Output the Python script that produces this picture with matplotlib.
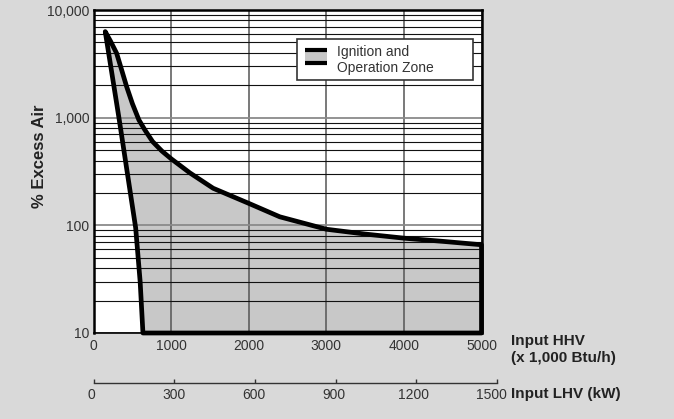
import matplotlib
matplotlib.use("Agg")
import matplotlib.pyplot as plt
import matplotlib.ticker as mticker
from matplotlib.patches import Polygon, Rectangle
from matplotlib.lines import Line2D

plt.rcParams['font.family'] = ['Liberation Sans', 'DejaVu Sans']

# ---- data ----
upper_x = [150, 220, 297, 360, 426, 500, 584, 661, 760, 880, 1000, 1241, 1541,
           2000, 2400, 3000, 3500, 4000, 4500, 5000]
upper_y = [6300, 5100, 3960, 2800, 1940, 1350, 952, 769, 600, 490, 415, 307, 221,
           160, 120, 92, 83, 76, 71, 66]
lower_x = [150, 331, 542, 600, 636]
lower_y = [6300, 952, 95, 30, 10]
floor_y = 10
max_x = 5000

hhv_ticks = [0, 1000, 2000, 3000, 4000, 5000]
y_ticks = [10, 100, 1000, 10000]
y_ticklabels = ["10", "100", "1,000", "10,000"]
lhv_ticks = [0, 300, 600, 900, 1200, 1500]
lhv_label_dx = [-1.5, -0.5, -0.7, -1.0, -2.0, -4.3]

legend_label = "Ignition and\nOperation Zone"

BG = '#d9d9d9'
FILL = '#c8c8c8'
TXT = '#333333'

fig = plt.figure(figsize=(6.74, 4.19), dpi=100, facecolor=BG)
W, H = 674, 419
ax_l, ax_r, ax_t, ax_b = 93.6, 481.5, 10, 333
ax = fig.add_axes([ax_l / W, 1 - ax_b / H, (ax_r - ax_l) / W, (ax_b - ax_t) / H])
ax.set_facecolor('white')
ax.set_yscale('log')
ax.set_xlim(0, max_x)
ax.set_ylim(10, 10000)

# zone polygon
verts = list(zip(upper_x, upper_y)) + [(max_x, floor_y)] + \
    list(zip(lower_x[::-1], lower_y[::-1]))[:-1]
fill = Polygon(verts, closed=True, facecolor=FILL, edgecolor='none', zorder=1)
ax.add_patch(fill)
edge = Polygon(verts, closed=True, facecolor='none', edgecolor='black',
               lw=3.4, joinstyle='round', zorder=4, clip_on=False)
ax.add_patch(edge)

# grid
ax.set_xticks(hhv_ticks)
ax.set_yticks(y_ticks)
ax.set_yticklabels(y_ticklabels)
ax.yaxis.set_minor_locator(mticker.LogLocator(base=10, subs=range(2, 10)))
ax.yaxis.set_minor_formatter(mticker.NullFormatter())
ax.grid(True, which='major', axis='x', color='#555555', lw=1.1, zorder=2)
ax.grid(True, which='major', axis='y', color='#8a8a8a', lw=1.3, zorder=2)
ax.grid(True, which='minor', axis='y', color='#111111', lw=0.8, zorder=2)
ax.set_axisbelow(False)
for line in ax.get_xgridlines() + ax.get_ygridlines():
    line.set_zorder(2)

ax.tick_params(axis='both', which='both', length=0, labelsize=10, labelcolor=TXT)
ax.tick_params(axis='x', pad=4)
ax.tick_params(axis='y', pad=3)

for s in ['left', 'top', 'right']:
    ax.spines[s].set_linewidth(1.8)
    ax.spines[s].set_color('black')
ax.spines['bottom'].set_linewidth(1.2)
for s in ax.spines.values():
    s.set_zorder(3)

# legend (manual)
ax.add_patch(Rectangle((0.5244, 0.783), 0.978 - 0.5244, 0.910 - 0.783,
                       transform=ax.transAxes, facecolor='white',
                       edgecolor='#333333', lw=1.2, zorder=5))
ax.add_patch(Rectangle((0.5449, 0.8297), 0.6017 - 0.5449, 0.8824 - 0.8297,
                       transform=ax.transAxes, facecolor=FILL,
                       edgecolor='none', zorder=6))
for yy in (0.8762, 0.8359):
    ax.add_line(Line2D([0.5449, 0.6017], [yy, yy], transform=ax.transAxes,
                       color='black', lw=3.0, solid_capstyle='butt', zorder=7))
ax.text(0.6272, 0.846, legend_label, transform=ax.transAxes, ha='left',
        va='center', fontsize=10, color=TXT, linespacing=1.15, zorder=7)

# secondary (LHV) axis
sec_y = 383
ax2 = fig.add_axes([ax_l / W, 1 - sec_y / H, (497 - ax_l) / W, 0.0001])
ax2.set_facecolor('none')
ax2.set_xlim(lhv_ticks[0], lhv_ticks[-1])
ax2.set_xticks(lhv_ticks)
ax2.set_xticklabels([])
ax2.set_yticks([])
for s in ['left', 'top', 'right']:
    ax2.spines[s].set_visible(False)
ax2.spines['bottom'].set_color('#333333')
ax2.spines['bottom'].set_linewidth(1.0)
ax2.tick_params(axis='x', direction='in', length=3, width=1.0, color='#333333')
for v, dx in zip(lhv_ticks, lhv_label_dx):
    ax2.annotate(str(v), xy=(v, 0), xycoords=('data', 'axes fraction'),
                 xytext=(dx, -3.5), textcoords='offset points', ha='center',
                 va='top', fontsize=10, color=TXT, annotation_clip=False)

# axis titles
fig.text(39 / W, 1 - 156 / H, "% Excess Air", rotation=90, ha='center',
         va='center', fontsize=12, fontweight='bold', color='#222222')
fig.text(511 / W, 1 - 341 / H, "Input HHV", ha='left', va='center',
         fontsize=11, fontweight='bold', color='#222222')
fig.text(511 / W, 1 - 358 / H, "(x 1,000 Btu/h)", ha='left', va='center',
         fontsize=11, fontweight='bold', color='#222222')
fig.text(511 / W, 1 - 394 / H, "Input LHV (kW)", ha='left', va='center',
         fontsize=11, fontweight='bold', color='#222222')

fig.savefig('out.png', dpi=100, facecolor=BG)
